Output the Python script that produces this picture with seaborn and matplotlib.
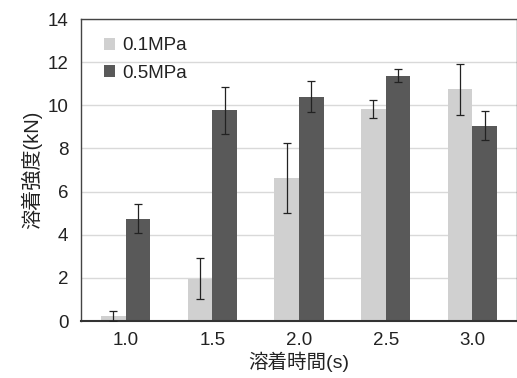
import matplotlib
matplotlib.use("Agg")
import matplotlib.pyplot as plt
import seaborn as sns
import pandas as pd
import numpy as np

times = ["1.0", "1.5", "2.0", "2.5", "3.0"]
pressures = ["0.1MPa", "0.5MPa"]
mean_01 = [0.23, 1.97, 6.62, 9.84, 10.74]
err_01 = [0.23, 0.96, 1.63, 0.42, 1.18]
mean_05 = [4.74, 9.77, 10.40, 11.36, 9.05]
err_05 = [0.67, 1.10, 0.73, 0.30, 0.67]
yticks = [0, 2, 4, 6, 8, 10, 12, 14]

sns.set_theme(style="white")
plt.rcParams['font.family'] = ['Liberation Sans', 'Noto Sans CJK JP', 'DejaVu Sans']

df = pd.DataFrame({
    "time": times * 2,
    "pressure": [pressures[0]] * 5 + [pressures[1]] * 5,
    "value": mean_01 + mean_05,
    "err": err_01 + err_05,
})

fig = plt.figure(figsize=(5.17, 3.78), dpi=100)
ax = fig.add_axes([81 / 517, 1 - 321 / 378, 436 / 517, 302 / 378])

palette = {"0.1MPa": "#d0d0d0", "0.5MPa": "#595959"}
sns.barplot(data=df, x="time", y="value", hue="pressure", palette=palette,
            errorbar=None, width=0.57, saturation=1, linewidth=0,
            ax=ax, zorder=2)

# error bars at bar centres
for container, errs, vals in zip(ax.containers, [err_01, err_05], [mean_01, mean_05]):
    xs = [p.get_x() + p.get_width() / 2 for p in container.patches]
    ax.errorbar(xs, vals, yerr=errs, fmt="none", ecolor="#222222",
                elinewidth=0.9, capsize=3, capthick=0.9, zorder=3)

ax.set_ylim(0, 14)
ax.set_yticks(yticks)
ax.set_yticklabels([str(t) for t in yticks])
ax.yaxis.grid(True, color="#d9d9d9", linewidth=1)
ax.set_axisbelow(True)
ax.tick_params(axis="both", length=0, labelsize=13.5, colors="#222222")
ax.tick_params(axis="y", pad=9)
ax.tick_params(axis="x", pad=8)

for s in ["top", "right", "left"]:
    ax.spines[s].set_visible(True)
    ax.spines[s].set_color("#444444")
    ax.spines[s].set_linewidth(1.0)
ax.spines["bottom"].set_color("#333333")
ax.spines["bottom"].set_linewidth(1.5)

ax.set_xlabel("溶着時間(s)", fontsize=14, labelpad=2, color="#222222")
ax.set_ylabel("溶着強度(kN)", fontsize=14.5, labelpad=4, color="#222222")

leg = ax.legend(loc="upper left", bbox_to_anchor=(0.013, 0.995), frameon=False,
                fontsize=13.5, handlelength=0.6, handleheight=0.6,
                handletextpad=0.4, labelspacing=0.55)
for t in leg.get_texts():
    t.set_color("#222222")

fig.savefig("out.png", dpi=100)
